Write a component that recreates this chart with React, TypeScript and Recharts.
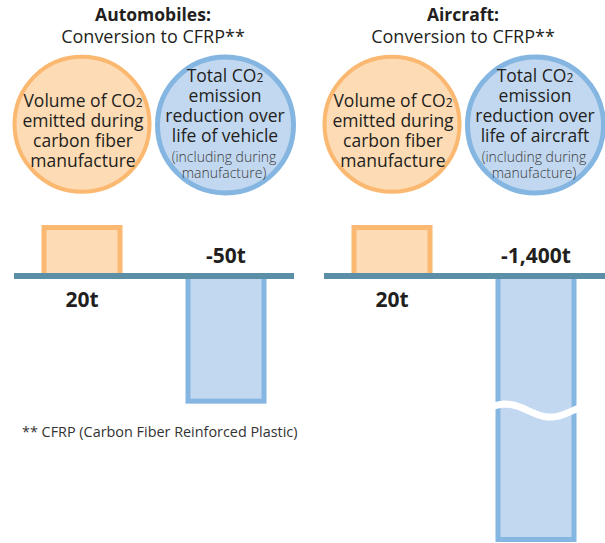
import React from 'react';
import { BarChart, Bar, XAxis, YAxis, ReferenceLine, LabelList } from 'recharts';

// ---------- data ----------
const panelTitles = ['Automobiles:', 'Aircraft:'];
const panelSubtitle = 'Conversion to CFRP**';
const categories = ['Carbon fiber manufacture', 'Lifetime CO2 reduction'];
const automobileValues = [20, -50];
const aircraftValues = [20, -1400];
const automobileBroken = [false, false];
const aircraftBroken = [false, true];
const emitLines = ['Volume of CO|2', 'emitted during', 'carbon fiber', 'manufacture'];
const reductionLinesAuto = ['Total CO|2', 'emission', 'reduction over', 'life of vehicle'];
const reductionLinesAir = ['Total CO|2', 'emission', 'reduction over', 'life of aircraft'];
const noteLines = ['(including during', 'manufacture)'];
const footnote = '** CFRP (Carbon Fiber Reinforced Plastic)';
const valueDomain: [number, number] = [-105, 30];

// ---------- style ----------
const FONT = '"Open Sans", "Noto Sans", sans-serif';
const TEXT = '#231f20';
const ORANGE = { border: '#fbb870', fill: '#fddbb4' };
const BLUE = { border: '#84b6e1', fill: '#c2d8f0' };
const LINE = '#5b8fa8';
const PANEL_OFFSET = 310;

const fmt = (v: number) => `${v < 0 ? '-' : ''}${Math.abs(v).toLocaleString('en-US')}t`;

const BarShape = (props: any) => {
  const { x, y, width, height, payload } = props;
  const v = payload.value as number;
  const top = Math.min(y, y + height);
  let bottom = Math.max(y, y + height);
  if (bottom > 542) bottom = 542;
  const c = v >= 0 ? ORANGE : BLUE;
  const bw = 5;
  const innerTop = v >= 0 ? top + bw : top;
  const innerBottom = v >= 0 ? bottom : bottom - bw;
  let wave = null;
  if (payload.broken) {
    const cy = top + 134.5;
    const pts: string[] = [];
    const n = 30;
    for (let i = 0; i <= n; i++) {
      const px = x - 2 + (i / n) * (width + 4);
      const py = cy + 6.5 * Math.cos((2 * Math.PI * (px - (x + 55))) / 90);
      pts.push(`${i === 0 ? 'M' : 'L'}${px.toFixed(2)},${py.toFixed(2)}`);
    }
    wave = <path d={pts.join(' ')} fill="none" stroke="#ffffff" strokeWidth={7} />;
  }
  return (
    <g>
      <rect x={x} y={top} width={width} height={bottom - top} fill={c.border} />
      <rect x={x + bw} y={innerTop} width={width - 2 * bw} height={innerBottom - innerTop} fill={c.fill} />
      {wave}
    </g>
  );
};

const ValueLabel = (props: any) => {
  const vb = props.viewBox && props.viewBox.width !== undefined ? props.viewBox : props;
  const { x, y, width, height } = vb;
  const value = Number(props.value);
  const zero = value >= 0 ? Math.max(y, y + height) : Math.min(y, y + height);
  const ty = value >= 0 ? zero + 30.5 : zero - 13;
  return (
    <text x={x + width / 2} y={ty} textAnchor="middle" fontSize={21} fontWeight={700} fill={TEXT} fontFamily={FONT}>
      {fmt(value)}
    </text>
  );
};

function Panel({ left, width, marginLeft, marginRight, values, broken, insetL, insetR }: any) {
  const data = categories.map((c, i) => ({ category: c, value: values[i], broken: broken[i] }));
  return (
    <div style={{ position: 'absolute', left, top: 0 }}>
      <BarChart
        width={width}
        height={544}
        data={data}
        margin={{ top: 199.5, right: marginRight, bottom: 0, left: marginLeft }}
        barSize={81}
      >
        <XAxis dataKey="category" hide />
        <YAxis hide type="number" domain={valueDomain} allowDataOverflow />
        <Bar dataKey="value" isAnimationActive={false} shape={BarShape}>
          <LabelList dataKey="value" content={ValueLabel} />
        </Bar>
        <ReferenceLine
          y={0}
          stroke={LINE}
          strokeWidth={6}
          shape={(p: any) => (
            <line x1={p.x1 + insetL} y1={p.y1} x2={p.x2 - insetR} y2={p.y2} stroke={LINE} strokeWidth={6} />
          )}
        />
      </BarChart>
    </div>
  );
}

const CircleText = ({ cx, y0, lines }: { cx: number; y0: number; lines: string[] }) => (
  <>
    {lines.map((l, i) => {
      const [main, sub] = l.split('|');
      return (
        <text key={i} x={cx} y={y0 + i * 20} textAnchor="middle" fontSize={17.5} fill={TEXT} fontFamily={FONT}>
          {main}
          {sub ? <tspan fontSize={12}>{sub}</tspan> : null}
        </text>
      );
    })}
  </>
);

function Annotations() {
  return (
    <svg width={605} height={543} style={{ position: 'absolute', left: 0, top: 0 }}>
      {[0, 1].map((p) => {
        const dx = p * PANEL_OFFSET;
        const redLines = p === 0 ? reductionLinesAuto : reductionLinesAir;
        return (
          <g key={p}>
            <text x={153 + dx} y={21} textAnchor="middle" fontSize={17.5} fontWeight={700} fill={TEXT} fontFamily={FONT}>
              {panelTitles[p]}
            </text>
            <text x={153 + dx} y={42.5} textAnchor="middle" fontSize={18} fill={TEXT} fontFamily={FONT}>
              {panelSubtitle}
            </text>
            <circle cx={82 + dx} cy={124.3} r={67.5} fill={ORANGE.fill} stroke={ORANGE.border} strokeWidth={4} />
            <circle cx={225.5 + dx} cy={125} r={68} fill={BLUE.fill} stroke={BLUE.border} strokeWidth={5} />
            <CircleText cx={83 + dx} y0={107} lines={emitLines} />
            <CircleText cx={225 + dx} y0={82} lines={redLines} />
            {noteLines.map((l, i) => (
              <text
                key={i}
                x={224 + dx}
                y={161.5 + i * 16}
                textAnchor="middle"
                fontSize={14}
                fontWeight={300}
                fill="#3a3a3a"
                fontFamily={FONT}
              >
                {l}
              </text>
            ))}
          </g>
        );
      })}
      <text x={22} y={437} fontSize={14.4} fill="#333" fontFamily={FONT}>
        {footnote}
      </text>
    </svg>
  );
}

export default function App() {
  return (
    <div style={{ position: 'absolute', left: 0, top: 0, width: 605, height: 543, overflow: 'hidden', background: '#fff' }}>
      <Annotations />
      <Panel
        left={0}
        width={305}
        marginLeft={9.5}
        marginRight={7.5}
        values={automobileValues}
        broken={automobileBroken}
        insetL={4.5}
        insetR={3.5}
      />
      <Panel
        left={PANEL_OFFSET}
        width={300}
        marginLeft={9.5}
        marginRight={2.5}
        values={aircraftValues}
        broken={aircraftBroken}
        insetL={4.5}
        insetR={-5}
      />
    </div>
  );
}
